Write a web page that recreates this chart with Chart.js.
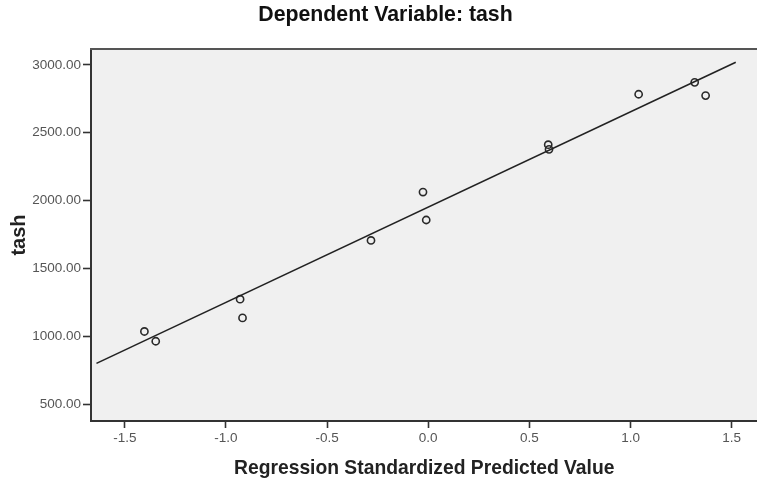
<!DOCTYPE html>
<html><head><meta charset="utf-8">
<script src="https://cdn.jsdelivr.net/npm/chart.js@4.4.1/dist/chart.umd.min.js"></script>
<style>html,body{margin:0;padding:0;background:#fff;overflow:hidden;}
#outer{width:757px;height:487px;overflow:hidden;position:relative;}
#wrap{position:relative;width:763px;height:487px;}</style>
</head><body><div id="outer"><div id="wrap"><canvas id="c"></canvas></div></div>
<script>
// Data
const predicted = [-1.403,-1.347,-0.930,-0.918,-0.283,-0.026,-0.010,0.593,0.597,1.040,1.317,1.371];
const tash      = [1035,963,1273,1135,1706,2063,1857,2412,2378,2784,2872,2774];
const fitX = [-1.64, 1.52];
const fitY = [800, 3020];
const xTicks = [-1.5,-1.0,-0.5,0.0,0.5,1.0,1.5];
const yTicks = [500,1000,1500,2000,2500,3000];
const titleText = 'Dependent Variable: tash';
const xTitle = 'Regression Standardized Predicted Value';
const yTitle = 'tash';

const points = predicted.map((x,i)=>({x:x,y:tash[i]}));
const fitLine = fitX.map((x,i)=>({x:x,y:fitY[i]}));
const FONT = 'Liberation Sans, Arial, sans-serif';

const frame = {
  id:'frame',
  afterLayout(chart){
    if (chart.titleBlock) { chart.titleBlock.left += 8; }
  },
  beforeDraw(chart){
    const {ctx, chartArea:a} = chart;
    ctx.save();
    ctx.fillStyle='#ffffff';
    ctx.fillRect(0,0,chart.width,chart.height);
    ctx.fillStyle='#f0f0f0';
    ctx.fillRect(a.left,a.top,a.right-a.left,a.bottom-a.top);
    ctx.restore();
  },
  afterDraw(chart){
    const {ctx, chartArea:a} = chart;
    ctx.save();
    ctx.strokeStyle='#555555';
    ctx.lineWidth=2;
    ctx.beginPath();
    ctx.moveTo(a.left-1,a.top);
    ctx.lineTo(a.right,a.top);
    ctx.stroke();
    ctx.restore();
  }
};

new Chart(document.getElementById('c'), {
  type:'scatter',
  data:{datasets:[
    {label:'fit', type:'line', data:fitLine, borderColor:'#222', borderWidth:1.6, pointRadius:0, fill:false, tension:0},
    {label:'tash', data:points, pointStyle:'circle', pointRadius:3.6, pointBorderWidth:1.6,
     borderColor:'#2a2a2a', backgroundColor:'rgba(0,0,0,0)', pointBackgroundColor:'rgba(0,0,0,0)'}
  ]},
  options:{
    responsive:true, maintainAspectRatio:false, animation:false, devicePixelRatio:1,
    layout:{padding:{left:0,right:0,top:0,bottom:0}},
    plugins:{
      legend:{display:false}, tooltip:{enabled:false},
      title:{display:true, text:titleText, color:'#111',
        font:{family:FONT, size:21.3, weight:'bold', lineHeight:1.2},
        padding:{top:2,bottom:21.4}}
    },
    scales:{
      x:{type:'linear', min:-1.667, max:1.627,
        afterBuildTicks(s){ s.ticks = xTicks.map(v=>({value:v})); },
        afterFit(s){ s.height = 66; s.paddingLeft = 0; s.paddingRight = 0; },
        ticks:{callback:v=>Number(v).toFixed(1), color:'#555', padding:2, maxRotation:0,
          font:{family:FONT, size:13.5}},
        grid:{drawOnChartArea:false, drawTicks:true, tickLength:7, tickColor:'#333', tickWidth:1.6},
        border:{display:true, color:'#333', width:2},
        title:{display:true, text:xTitle, color:'#222',
          font:{family:FONT, size:19.3, weight:'bold'}, padding:{top:4,bottom:7}}
      },
      y:{type:'linear', min:375, max:3118,
        afterBuildTicks(s){ s.ticks = yTicks.map(v=>({value:v})); },
        afterFit(s){ s.width = 91; s.paddingTop = 0; s.paddingBottom = 0; s.paddingLeft = 0; s.paddingRight = 0; },
        ticks:{callback:v=>Number(v).toFixed(2), color:'#555', padding:2,
          font:{family:FONT, size:13.5}},
        grid:{drawOnChartArea:false, drawTicks:true, tickLength:8, tickColor:'#333', tickWidth:1.6},
        border:{display:true, color:'#333', width:2},
        title:{display:true, text:yTitle, color:'#222',
          font:{family:FONT, size:20, weight:'bold'}, padding:{top:7,bottom:0}}
      }
    }
  },
  plugins:[frame]
});
</script>
</body></html>
